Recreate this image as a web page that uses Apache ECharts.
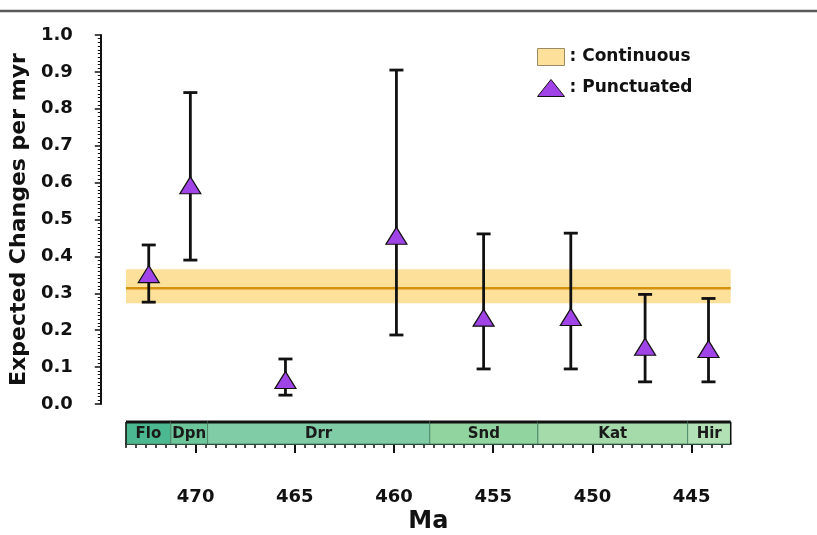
<!DOCTYPE html>
<html>
<head>
<meta charset="utf-8">
<script src="https://cdn.jsdelivr.net/npm/echarts@6/dist/echarts.min.js"></script>
<style>
html,body{margin:0;padding:0;background:#fff;}
#chart{width:817px;height:535px;}
</style>
</head>
<body>
<div id="chart"></div>
<script>
// ---- data ----
const stageNames = ['Flo', 'Dpn', 'Drr', 'Snd', 'Kat', 'Hir'];
const stageStart = [473.51, 471.25, 469.4, 458.2, 452.75, 445.2];
const stageEnd = [471.25, 469.4, 458.2, 452.75, 445.2, 443.03];
const stageColors = ['#4cb892', '#6ec69b', '#7fcca6', '#92d49f', '#a5dbab', '#b2e1b6'];

const pointAges = [472.4, 470.3, 465.5, 459.9, 455.5, 451.1, 447.35, 444.15];
const pointValues = [0.352, 0.593, 0.065, 0.456, 0.234, 0.236, 0.155, 0.149];
const lowerValues = [0.276, 0.390, 0.024, 0.187, 0.095, 0.095, 0.060, 0.060];
const upperValues = [0.431, 0.844, 0.122, 0.905, 0.461, 0.463, 0.297, 0.286];

const continuousMean = [0.314];
const continuousLow = [0.273];
const continuousHigh = [0.365];
const bandAgeStart = [473.55];
const bandAgeEnd = [443.03];

const xTickLabels = [470, 465, 460, 455, 450, 445];

// ---- chart ----
const AGE_MIN = 443.03;
const MAIN_AGE_MAX = 474.82;
const SCALE_AGE_MAX = 473.51;
const FONT = '"DejaVu Sans", Verdana, sans-serif';

const minorTicks = [];
for (let v = 443.5; v <= 473.5 + 1e-9; v += 0.5) minorTicks.push(+v.toFixed(1));

const errData = pointAges.map((a, i) => [a, pointValues[i], lowerValues[i], upperValues[i]]);
const scatterData = pointAges.map((a, i) => [a, pointValues[i]]);
const bandData = continuousMean.map((m, i) => [bandAgeStart[i], bandAgeEnd[i], continuousLow[i], continuousHigh[i], m]);
const stageData = stageNames.map((n, i) => [stageStart[i], stageEnd[i], n, i]);

const chart = echarts.init(document.getElementById('chart'), null, {renderer: 'canvas'});

const option = {
  backgroundColor: '#fff',
  animation: false,
  textStyle: {fontFamily: FONT},
  graphic: [{
    type: 'line', z: 100,
    shape: {x1: 0, y1: 11, x2: 817, y2: 11},
    style: {stroke: '#5a5a5a', lineWidth: 2.5}
  }],
  legend: {
    orient: 'vertical',
    left: 532, top: 43,
    itemWidth: 27, itemHeight: 17,
    itemGap: 13,
    textStyle: {fontFamily: FONT, fontWeight: 'bold', fontSize: 17, color: '#111'},
    data: [
      {name: ': Continuous', icon: 'rect', itemStyle: {color: '#fde09a', borderColor: '#9a8a66', borderWidth: 1}},
      {name: ': Punctuated', icon: 'triangle', itemStyle: {color: '#a044e8', borderColor: '#111', borderWidth: 1}}
    ]
  },
  grid: [
    {left: 100, right: 86.3, top: 35, bottom: 131},
    {left: 126, right: 86.3, top: 422, height: 30.7}
  ],
  xAxis: [
    {gridIndex: 0, type: 'value', min: AGE_MIN, max: MAIN_AGE_MAX, inverse: true, show: false},
    {
      gridIndex: 1, type: 'value', min: AGE_MIN, max: SCALE_AGE_MAX, inverse: true,
      position: 'bottom',
      splitLine: {show: false},
      axisLine: {show: true, lineStyle: {color: '#111', width: 2}},
      axisTick: {show: true, length: 9, lineStyle: {color: '#111', width: 2}, customValues: xTickLabels},
      axisLabel: {
        show: true, customValues: xTickLabels, margin: 44,
        fontFamily: FONT, fontWeight: 'bold', fontSize: 18, color: '#111'
      },
      name: 'Ma', nameLocation: 'middle', nameGap: 66,
      nameTextStyle: {fontFamily: FONT, fontSize: 24, fontWeight: 'bold', color: '#111'}
    },
    {
      gridIndex: 1, type: 'value', min: AGE_MIN, max: SCALE_AGE_MAX, inverse: true,
      position: 'bottom',
      splitLine: {show: false},
      axisLine: {show: false},
      axisTick: {show: true, length: 4, lineStyle: {color: '#111', width: 1.5}, customValues: minorTicks},
      axisLabel: {show: false}
    }
  ],
  yAxis: [
    {
      gridIndex: 0, type: 'value', min: 0, max: 1, interval: 0.1,
      splitLine: {show: false},
      axisLine: {show: true, lineStyle: {color: '#111', width: 2}},
      axisTick: {show: true, length: 6, lineStyle: {color: '#111', width: 1.5}},
      minorTick: {show: true, splitNumber: 10, length: 3, lineStyle: {color: '#111', width: 1}},
      axisLabel: {
        margin: 28, fontFamily: FONT, fontWeight: 'bold', fontSize: 18, color: '#111',
        formatter: v => v.toFixed(1)
      },
      name: 'Expected Changes per myr', nameLocation: 'middle', nameGap: 68,
      nameTextStyle: {fontFamily: FONT, fontSize: 22, fontWeight: 'bold', color: '#111'}
    },
    {gridIndex: 1, type: 'value', min: 0, max: 1, show: false}
  ],
  series: [
    {
      name: ': Continuous',
      type: 'custom',
      xAxisIndex: 0, yAxisIndex: 0,
      z: 1,
      data: bandData,
      encode: {x: [0, 1], y: [2, 3, 4]},
      renderItem: function (params, api) {
        const p1 = api.coord([api.value(0), api.value(3)]);
        const p2 = api.coord([api.value(1), api.value(2)]);
        const pm = api.coord([api.value(0), api.value(4)]);
        return {
          type: 'group',
          children: [
            {type: 'rect', shape: {x: p1[0], y: p1[1], width: p2[0] - p1[0], height: p2[1] - p1[1]},
              style: {fill: '#fde09a'}},
            {type: 'line', shape: {x1: p1[0], y1: pm[1], x2: p2[0], y2: pm[1]},
              style: {stroke: '#d4920f', lineWidth: 2.5}}
          ]
        };
      },
      itemStyle: {color: '#fde09a'}
    },
    {
      name: 'errorbars',
      type: 'custom',
      xAxisIndex: 0, yAxisIndex: 0,
      z: 3,
      data: errData,
      encode: {x: 0, y: [1, 2, 3]},
      renderItem: function (params, api) {
        const lo = api.coord([api.value(0), api.value(2)]);
        const hi = api.coord([api.value(0), api.value(3)]);
        const w = 7;
        const st = {stroke: '#111', lineWidth: 2.8};
        return {
          type: 'group',
          children: [
            {type: 'line', shape: {x1: lo[0], y1: lo[1], x2: hi[0], y2: hi[1]}, style: st},
            {type: 'line', shape: {x1: lo[0] - w, y1: lo[1], x2: lo[0] + w, y2: lo[1]}, style: st},
            {type: 'line', shape: {x1: hi[0] - w, y1: hi[1], x2: hi[0] + w, y2: hi[1]}, style: st}
          ]
        };
      }
    },
    {
      name: ': Punctuated',
      type: 'scatter',
      xAxisIndex: 0, yAxisIndex: 0,
      z: 5,
      symbol: 'triangle',
      symbolSize: [21, 17],
      itemStyle: {color: '#a044e8', borderColor: '#111', borderWidth: 1.2, opacity: 1},
      data: scatterData
    },
    {
      name: 'stages',
      type: 'custom',
      xAxisIndex: 1, yAxisIndex: 1,
      z: 2,
      data: stageData,
      encode: {x: [0, 1]},
      renderItem: function (params, api) {
        const idx = api.value(3);
        const tl = api.coord([api.value(0), 1]);
        const br = api.coord([api.value(1), 0]);
        const children = [
          {type: 'rect', shape: {x: tl[0], y: tl[1], width: br[0] - tl[0], height: br[1] - tl[1]},
            style: {fill: stageColors[idx], stroke: '#4f8a6a', lineWidth: 1}},
          {type: 'text', style: {
            x: (tl[0] + br[0]) / 2, y: (tl[1] + br[1]) / 2 + 1,
            text: stageNames[idx], align: 'center', verticalAlign: 'middle',
            font: 'bold 15px ' + FONT, fill: '#1a1a1a'}},
          {type: 'line', shape: {x1: tl[0], y1: tl[1], x2: br[0], y2: tl[1]},
            style: {stroke: '#111', lineWidth: 3}}
        ];
        if (idx === 0) children.push({type: 'line', shape: {x1: tl[0], y1: tl[1], x2: tl[0], y2: br[1]}, style: {stroke: '#111', lineWidth: 1.5}});
        if (idx === stageNames.length - 1) children.push({type: 'line', shape: {x1: br[0], y1: tl[1], x2: br[0], y2: br[1]}, style: {stroke: '#111', lineWidth: 1.5}});
        return {type: 'group', children: children};
      }
    }
  ]
};
chart.setOption(option);
</script>
</body>
</html>
